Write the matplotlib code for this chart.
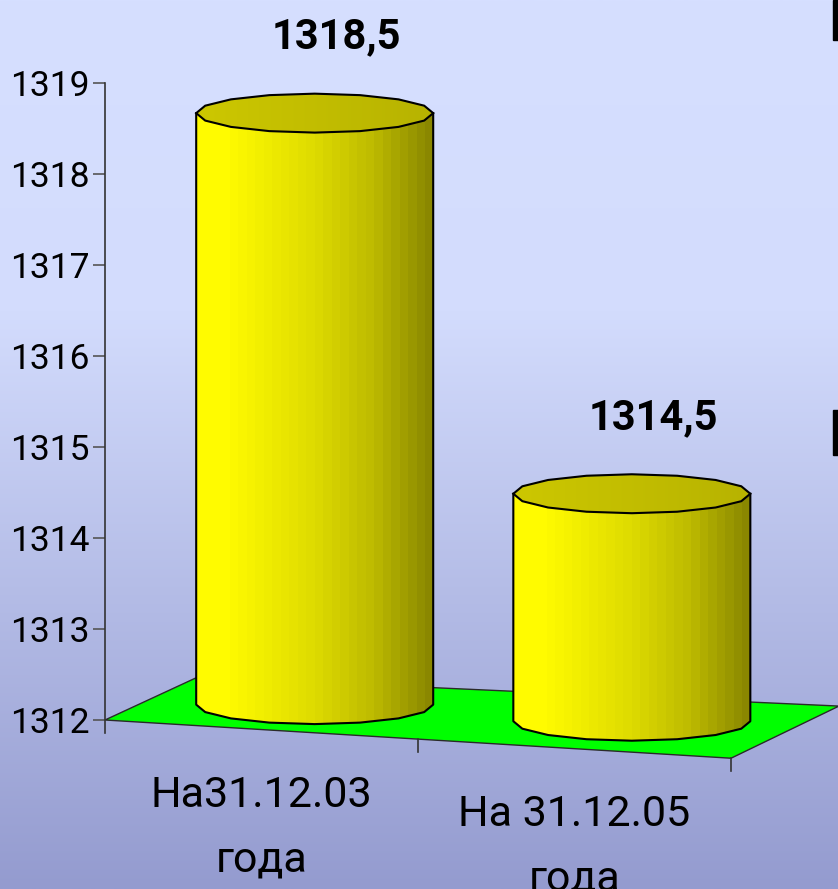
import numpy as np
import matplotlib
matplotlib.use("Agg")
import matplotlib.pyplot as plt
from matplotlib.patches import Polygon, PathPatch, Rectangle
from matplotlib.path import Path

plt.rcParams['font.family'] = ['Roboto', 'DejaVu Sans']

# data
categories = ["На31.12.03\nгода", "На 31.12.05\nгода"]
values = [1318.5, 1314.5]
value_labels = ["1318,5", "1314,5"]
y_ticks = [1312, 1313, 1314, 1315, 1316, 1317, 1318, 1319]
y_base = 1312

# pseudo-3d floor geometry (in data units)
FALL = 0.21       # front edge drops to the right
DEPTH_X = 0.297
DEPTH_Y = 0.473


def proj(u, v, d):
    # u - category position, v - value, d - depth 0..1
    x = u + d * (DEPTH_X + 0.024 * u)
    y = v - FALL * u + d * (DEPTH_Y + 0.05 * u)
    return x, y


def shade(stops, levels, n, k=0.985):
    t = np.linspace(0, 1, n)
    b = np.interp(t, stops, levels) / 255
    return np.stack([b, b * k, np.zeros_like(b)], axis=1)[None, :, :]


fig = plt.figure(figsize=(8.38, 8.89), dpi=100)

# background gradient
bg = fig.add_axes([0, 0, 1, 1])
bg.axis("off")
t = np.linspace(0, 1, 400)
stops = [0, 0.35, 1]
grad = np.stack([np.interp(t, stops, [214, 211, 148]),
                 np.interp(t, stops, [223, 220, 155]),
                 np.interp(t, stops, [255, 253, 207])], axis=1)[:, None, :] / 255
bg.imshow(grad, aspect="auto", extent=(0, 1, 0, 1), origin="upper")
bg.set_xlim(0, 1)
bg.set_ylim(0, 1)

ax = fig.add_axes([105 / 838, (889 - 811) / 889, 733 / 838, 773.5 / 889])
ax.patch.set_alpha(0)

# floor
n_cat = len(categories)
floor = [proj(0, y_base, 0), proj(n_cat, y_base, 0),
         proj(n_cat, y_base, 1), proj(0, y_base, 1)]
ax.add_patch(Polygon(floor, closed=True, facecolor="#00ff00", edgecolor="#2a2a2a",
                     lw=1.0, zorder=1, clip_on=False))

# hanging x ticks at category borders
for u in range(1, n_cat + 1):
    x, y = proj(u, y_base, 0)
    ax.plot([x, x], [y, y - 0.14], color="#333333", lw=1.2, clip_on=False, zorder=1)

# cylinders
r, ry = 0.3786, 0.214
theta_low = np.linspace(np.pi, 2 * np.pi, 9)
theta_full = np.linspace(0, 2 * np.pi, 17)
for i, val in enumerate(values):
    cx, y_top = proj(i + 0.5, val, 0.55)
    _, y_bot = proj(i + 0.5, y_base, 0.55)

    bottom = [(cx + r * np.cos(a), y_bot + ry * np.sin(a)) for a in theta_low]
    body = [(cx - r, y_top)] + bottom + [(cx + r, y_top), (cx - r, y_top)]
    body_patch = PathPatch(Path(body, closed=True), facecolor="none",
                           edgecolor="none", zorder=3)
    ax.add_patch(body_patch)
    im = ax.imshow(shade([0, 0.12, 0.5, 0.75, 1], [255, 255, 222, 190, 138], 28),
                   extent=(cx - r, cx + r, y_bot - ry, y_top),
                   aspect="auto", interpolation="nearest", zorder=3)
    im.set_clip_path(body_patch)
    outline = np.array([(cx - r, y_top)] + bottom + [(cx + r, y_top)])
    ax.plot(outline[:, 0], outline[:, 1], color="black", lw=1.5, zorder=4)

    top = [(cx + r * np.cos(a), y_top + ry * np.sin(a)) for a in theta_full]
    top_patch = Polygon(top, closed=True, facecolor="none", edgecolor="none", zorder=5)
    ax.add_patch(top_patch)
    im2 = ax.imshow(shade([0, 1], [204, 184], 16, k=0.975),
                    extent=(cx - r, cx + r, y_top - ry, y_top + ry),
                    aspect="auto", interpolation="bilinear", zorder=5)
    im2.set_clip_path(top_patch)
    ax.add_patch(Polygon(top, closed=True, facecolor="none", edgecolor="black",
                         lw=1.5, zorder=6))

    ax.text(cx + 0.07, y_top + ry + 0.5, value_labels[i], ha="center",
            va="baseline", fontsize=30, fontweight="bold", zorder=7)

# category labels under the front edge
for i, cat in enumerate(categories):
    x, y = proj(i + 0.5, y_base, 0)
    ax.text(x, y - 0.5, cat, ha="center", va="top", fontsize=31,
            linespacing=1.72, clip_on=False)

ax.set_xlim(0, 733 / 313)
ax.set_ylim(1311, 1319.5)

for side in ["top", "right", "bottom"]:
    ax.spines[side].set_visible(False)
ax.spines["left"].set_bounds(1311.86, 1319)
ax.spines["left"].set_color("#333333")
ax.spines["left"].set_linewidth(1.2)
ax.set_xticks([])
ax.set_yticks(y_ticks)
ax.tick_params(axis="y", length=8.6, width=1.2, color="#555555", pad=2.4,
               labelsize=25.5)

# cut-off marks at right border
fig.add_artist(Rectangle((833 / 838, 1 - 40 / 889), 5 / 838, 40 / 889,
                         transform=fig.transFigure, color="black"))
fig.add_artist(Rectangle((833 / 838, 1 - 455 / 889), 5 / 838, 45 / 889,
                         transform=fig.transFigure, color="black"))

fig.savefig("out.png", dpi=100)
